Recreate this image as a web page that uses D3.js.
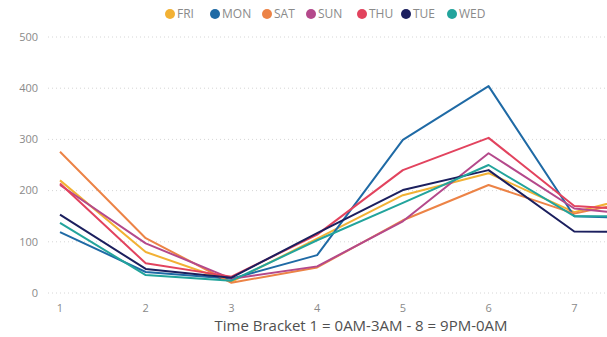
<!DOCTYPE html>
<html>
<head>
<meta charset="utf-8">
<script src="https://cdn.jsdelivr.net/npm/d3@7"></script>
<style>
  body { margin: 0; background: #fff; overflow: hidden; }
  text { font-family: "Open Sans", "Noto Sans", sans-serif; }
</style>
</head>
<body>
<div id="chart"></div>
<script>
// time brackets along the x axis
var brackets = [1, 2, 3, 4, 5, 6, 7, 8];
var yTicks = [0, 100, 200, 300, 400, 500];

// series per weekday (value per bracket)
var friValues = [220, 80, 22, 106, 191, 234, 158, 200];
var monValues = [119, 41, 28, 74, 299, 404, 150, 145];
var satValues = [276, 107, 20, 50, 142, 211, 155, 190];
var sunValues = [211, 97, 28, 52, 140, 273, 165, 148];
var thuValues = [214, 58, 32, 114, 240, 303, 170, 160];
var tueValues = [153, 47, 30, 117, 201, 240, 120, 119];
var wedValues = [137, 35, 24, 103, 176, 250, 150, 150];

var seriesNames = ['FRI', 'MON', 'SAT', 'SUN', 'THU', 'TUE', 'WED'];
var seriesColors = ['#f2b134', '#1f6aa5', '#ec8346', '#b4498b', '#e2435e', '#1b1f5e', '#22a49c'];
var seriesValues = [friValues, monValues, satValues, sunValues, thuValues, tueValues, wedValues];

var width = 607, height = 337;

var svg = d3.select('#chart').append('svg')
  .attr('width', width)
  .attr('height', height);

// x=1 sits at 60px, each bracket about 86px apart, so 8 falls past the edge
var x = d3.scaleLinear()
  .domain([1, 8])
  .range([60, 660]);

var y = d3.scaleLinear()
  .domain([0, 500])
  .range([293, 37]);

// gridlines
svg.append('g')
  .selectAll('line')
  .data(yTicks)
  .enter().append('line')
  .attr('x1', 48)
  .attr('x2', width)
  .attr('y1', d => y(d))
  .attr('y2', d => y(d))
  .attr('stroke', '#d6d6d6')
  .attr('stroke-width', 1)
  .attr('stroke-dasharray', '1,3');

// y tick labels
svg.append('g')
  .selectAll('text')
  .data(yTicks)
  .enter().append('text')
  .attr('x', 38)
  .attr('y', d => y(d))
  .attr('dy', '0.35em')
  .style('text-anchor', 'end')
  .style('font-size', '11px')
  .style('fill', '#8a8a8a')
  .text(d => d);

// x tick labels (only the ones that fit in the visible area)
svg.append('g')
  .selectAll('text')
  .data(brackets.filter(d => x(d) < width - 10))
  .enter().append('text')
  .attr('x', d => x(d))
  .attr('y', 308)
  .attr('dy', '0.35em')
  .style('text-anchor', 'middle')
  .style('font-size', '11px')
  .style('fill', '#8a8a8a')
  .text(d => d);

// axis title
svg.append('text')
  .attr('x', 361)
  .attr('y', 326)
  .attr('dy', '0.35em')
  .style('text-anchor', 'middle')
  .style('font-size', '15px')
  .style('fill', '#505050')
  .text('Time Bracket 1 = 0AM-3AM - 8 = 9PM-0AM');

var line = d3.line()
  .x((d, i) => x(brackets[i]))
  .y(d => y(d));

svg.append('g')
  .selectAll('path')
  .data(seriesValues)
  .enter().append('path')
  .attr('d', d => line(d))
  .attr('fill', 'none')
  .attr('stroke', (d, i) => seriesColors[i])
  .attr('stroke-width', 2)
  .attr('stroke-linejoin', 'round');

// legend
var legendX = [170, 215, 267, 311, 362, 406, 452];
var legend = svg.append('g')
  .selectAll('g')
  .data(seriesNames)
  .enter().append('g')
  .attr('transform', (d, i) => `translate(${legendX[i]}, 14)`);

legend.append('circle')
  .attr('r', 5)
  .attr('fill', (d, i) => seriesColors[i]);

legend.append('text')
  .attr('x', 7)
  .attr('dy', '0.35em')
  .style('font-size', '12px')
  .style('fill', '#8a8a8a')
  .text(d => d);
</script>
</body>
</html>
